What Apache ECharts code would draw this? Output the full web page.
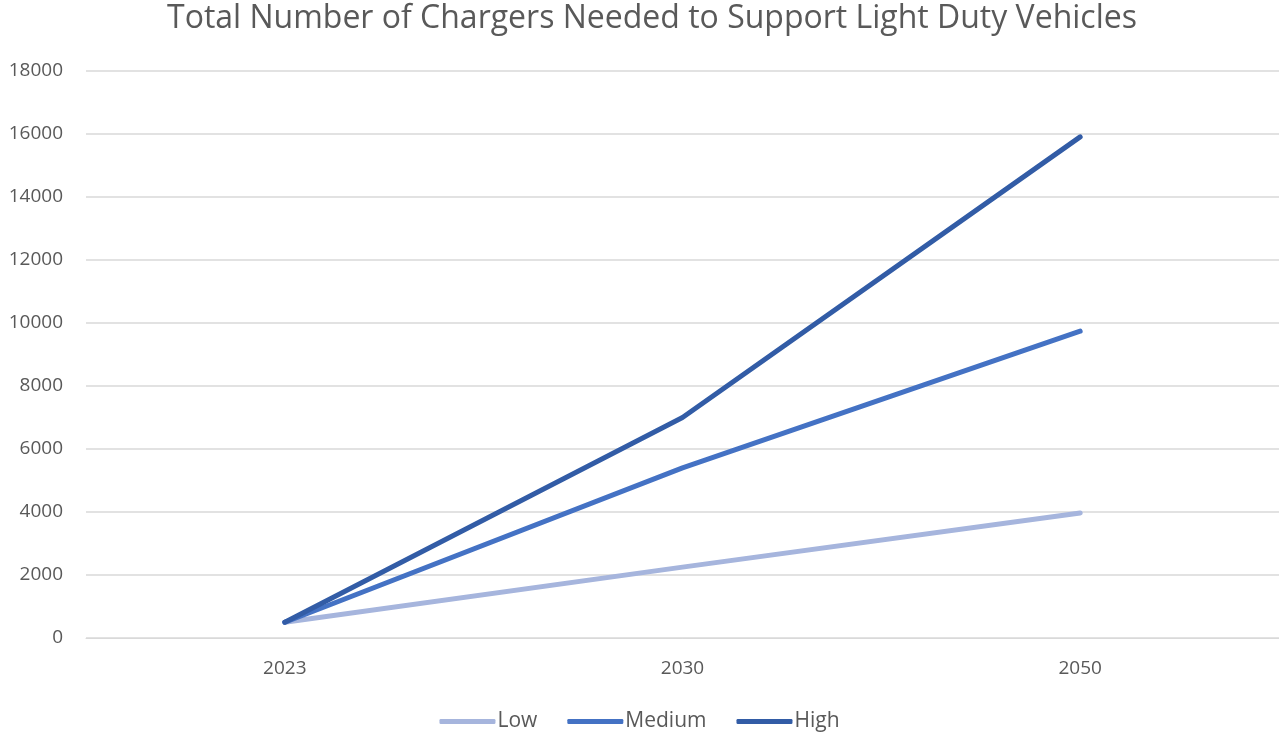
<!DOCTYPE html>
<html>
<head>
<meta charset="utf-8">
<script src="https://cdn.jsdelivr.net/npm/echarts@6/dist/echarts.min.js"></script>
<style>
  html, body { margin: 0; padding: 0; background: #fff; }
  #chart { width: 1279px; height: 734px; }
</style>
</head>
<body>
<div id="chart"></div>
<script>
// Years on the horizontal axis
const years = ['2023', '2030', '2050'];
// Chargers needed per scenario
const lowValues = [500, 2250, 3970];
const mediumValues = [500, 5400, 9740];
const highValues = [500, 7000, 15910];

const FONT = 'Open Sans';
const TEXT = '#595959';

const chart = echarts.init(document.getElementById('chart'), null, { renderer: 'canvas' });

function lineSeries(name, data, color) {
  return {
    name: name,
    type: 'line',
    data: data,
    symbol: 'none',
    smooth: false,
    lineStyle: { width: 5, color: color, cap: 'round', join: 'round' },
    itemStyle: { color: color },
    emphasis: { disabled: true }
  };
}

chart.setOption({
  animation: false,
  color: ['#a6b5dd', '#4472c4', '#325ca6'],
  title: {
    text: 'Total Number of Chargers Needed to Support Light Duty Vehicles',
    left: 647,
    textAlign: 'center',
    top: -2,
    textStyle: { fontFamily: FONT, fontSize: 32, fontWeight: 'normal', color: TEXT }
  },
  grid: { left: 86, right: 0, top: 71, bottom: 96, containLabel: false },
  legend: {
    bottom: -3,
    left: 'center',
    itemWidth: 56,
    itemHeight: 5,
    itemGap: 30,
    icon: 'roundRect',
    textStyle: { fontFamily: FONT, fontSize: 21, color: TEXT, padding: [0, 0, 0, -3] },
    data: ['Low', 'Medium', 'High']
  },
  xAxis: {
    type: 'category',
    data: years,
    boundaryGap: true,
    axisLine: { show: true, lineStyle: { color: '#d9d9d9', width: 1 } },
    axisTick: { show: false },
    axisLabel: { fontFamily: FONT, fontSize: 19, color: TEXT, margin: 21 }
  },
  yAxis: {
    type: 'value',
    min: 0,
    max: 18000,
    interval: 2000,
    axisLine: { show: false },
    axisTick: { show: false },
    splitLine: { lineStyle: { color: '#d9d9d9', width: 1.5 } },
    axisLabel: {
      fontFamily: FONT, fontSize: 19, color: TEXT, margin: 23,
      formatter: function (v) { return String(v); }
    }
  },
  series: [
    lineSeries('Low', lowValues, '#a6b5dd'),
    lineSeries('Medium', mediumValues, '#4472c4'),
    lineSeries('High', highValues, '#325ca6')
  ]
});
</script>
</body>
</html>
